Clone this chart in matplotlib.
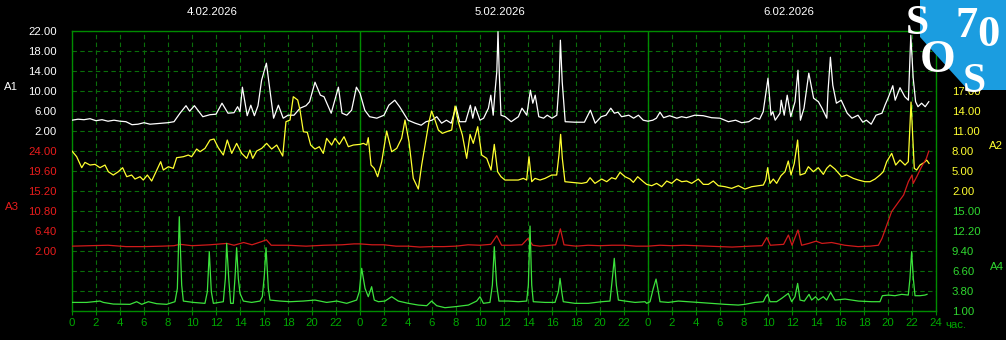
import numpy as np
import matplotlib.pyplot as plt
from matplotlib.patches import Polygon
from matplotlib.transforms import blended_transform_factory

plt.rcParams['font.family'] = ['Liberation Sans', 'DejaVu Sans']

W, H = 1006, 340

dates = ['4.02.2026', '5.02.2026', '6.02.2026']

# A1 (white), hours from start of 4.02
a1_hours = [0.0, 0.5, 1.0, 1.5, 2.0, 2.5, 3.0, 3.5, 4.0, 4.5, 5.0, 5.5, 6.0, 6.5, 7.0, 7.5, 8.0, 8.5,
            9.0, 9.5, 9.8, 10.2, 10.9, 11.5, 12.0, 12.5, 13.0, 13.5, 13.8, 14.0, 14.2, 14.6, 14.9,
            15.2, 15.5, 15.8, 16.2, 16.4, 16.8, 17.2, 17.6, 18.0, 18.5, 19.0, 19.5, 19.8, 20.25,
            20.7, 21.0, 21.6, 22.2, 22.5, 22.9, 23.3, 23.7,
            24.0, 24.4, 24.8, 25.4, 26.0, 26.4, 26.9, 27.3, 28.0, 28.6, 29.1, 29.5, 30.0, 30.4,
            30.8, 31.2, 31.6, 32.0, 32.3, 32.8, 33.2, 33.4, 33.6, 34.0, 34.3, 34.7, 34.9, 35.1,
            35.25, 35.4, 35.5, 35.6, 35.75, 36.1, 36.6, 37.2, 37.5, 37.9, 38.2, 38.4, 38.6, 38.9,
            39.3, 39.6, 40.0, 40.4, 40.6, 40.7, 40.85, 41.1, 41.9, 42.7, 43.2, 43.6, 44.1, 44.5,
            44.9, 45.2, 45.5, 45.8, 46.4, 46.8, 47.2, 47.6,
            48.0, 48.4, 48.7, 49.0, 49.3, 49.8, 50.4, 50.8, 51.2, 51.9, 52.6, 53.3, 54.0, 54.7,
            55.3, 55.8, 56.4, 56.9, 57.3, 57.6, 58.0, 58.25, 58.4, 58.6, 59.0, 59.1, 59.35, 59.6,
            59.9, 60.25, 60.5, 60.7, 61.0, 61.4, 61.8, 62.2, 62.5, 62.9, 63.0, 63.2, 63.4, 63.7,
            64.1, 64.6, 65.0, 65.5, 65.9, 66.2, 66.6, 67.0, 67.5, 67.75, 68.0, 68.4, 68.6, 69.0,
            69.4, 69.7, 69.9, 70.1, 70.3, 70.5, 70.8, 71.1, 71.4]
a1_values = [4.1, 4.3, 4.2, 4.4, 4.0, 4.2, 3.9, 4.1, 3.9, 3.8, 3.2, 3.3, 3.6, 3.3, 3.4, 3.5, 3.6, 3.8,
             5.5, 7.0, 5.9, 7.0, 4.8, 5.2, 5.3, 7.5, 5.5, 5.6, 6.8, 5.8, 10.7, 5.0, 7.1,
             5.0, 7.0, 12.1, 15.5, 11.8, 4.5, 7.1, 4.5, 5.1, 5.1, 6.5, 7.0, 7.8, 11.7,
             9.1, 8.8, 5.5, 10.7, 5.5, 5.1, 6.1, 10.7,
             9.5, 6.1, 4.8, 4.5, 5.1, 7.1, 8.1, 6.8, 4.1, 3.5, 3.1, 3.8, 4.1, 4.8,
             3.5, 4.1, 3.5, 6.8, 3.8, 3.8, 7.1, 4.5, 6.8, 4.1, 4.5, 6.5, 9.1, 5.1,
             9.8, 13.8, 21.8, 13.8, 5.1, 4.8, 3.8, 4.8, 6.5, 5.1, 10.1, 7.5, 9.1, 4.8,
             4.5, 5.1, 4.5, 5.1, 11.8, 20.1, 11.8, 3.8, 3.7, 3.7, 6.1, 3.5, 4.8, 5.1,
             6.5, 5.5, 5.7, 4.8, 5.1, 4.5, 5.1, 4.1,
             3.9, 4.1, 4.5, 5.7, 4.6, 5.0, 4.5, 4.8, 4.6, 5.1, 5.0, 4.6, 4.5, 3.8,
             4.1, 3.6, 3.8, 4.6, 4.3, 5.8, 12.5, 5.1, 5.8, 4.1, 5.5, 8.1, 5.1, 9.1,
             4.8, 7.8, 14.1, 4.1, 6.5, 13.5, 8.5, 7.8, 6.5, 4.5, 9.8, 16.7, 11.1, 7.5,
             8.1, 5.5, 4.5, 5.1, 3.7, 4.1, 3.3, 5.1, 5.5, 7.1, 8.5, 11.0, 8.1, 10.6,
             8.8, 8.1, 21.1, 12.5, 7.8, 6.8, 7.5, 6.8, 7.8]

# A2 (yellow)
a2_hours = [0.0, 0.39, 0.81, 1.08, 1.5, 1.92, 2.33, 2.75, 3.03, 3.44, 3.86, 4.22, 4.56, 4.97, 5.25,
            5.67, 5.94, 6.28, 6.64, 7.0, 7.39, 7.61, 8.03, 8.44, 8.72, 9.28, 9.69, 9.97, 10.39,
            10.67, 11.08, 11.5, 11.83, 12.19, 12.61, 12.94, 13.31, 13.72, 14.14, 14.56, 14.83,
            15.06, 15.39, 15.81, 16.22, 16.64, 17.06, 17.56, 17.83, 18.17, 18.44, 18.81, 19.0,
            19.28, 19.61, 19.89, 20.25, 20.61, 20.94, 21.22, 21.64, 21.92, 22.28, 22.67, 23.03,
            23.44,
            24.0, 24.28, 24.56, 24.69, 24.92, 25.19, 25.47, 25.81, 26.22, 26.64, 27.06, 27.47,
            27.75, 28.08, 28.44, 28.86, 29.14, 29.47, 29.75, 29.97, 30.25, 30.53, 30.86, 31.22,
            31.64, 31.92, 32.19, 32.53, 32.89, 33.17, 33.44, 33.81, 34.14, 34.56, 34.92, 35.19,
            35.47, 35.75, 36.08, 36.64, 37.19, 37.61, 37.89, 38.08, 38.31, 38.58, 39.0, 39.42,
            39.97, 40.39, 40.58, 40.72, 40.86, 41.08, 41.64, 42.47, 42.89, 43.17, 43.58, 44.14,
            44.56, 44.97, 45.31, 45.67, 46.08, 46.5, 46.78, 47.14, 47.61,
            47.89, 48.31, 48.72, 49.14, 49.56, 49.97, 50.39, 50.81, 51.22, 51.64, 52.19, 52.61,
            53.03, 53.44, 53.86, 54.42, 54.97, 55.53, 56.08, 56.64, 57.19, 57.61, 57.81, 57.97,
            58.17, 58.44, 58.72, 59.08, 59.42, 59.69, 59.92, 60.19, 60.47, 60.67, 61.08, 61.36,
            61.78, 62.19, 62.61, 62.89, 63.17, 63.58, 64.14, 64.56, 65.11, 65.53, 66.08, 66.5,
            66.92, 67.33, 67.61, 67.89, 68.31, 68.64, 69.0, 69.42, 69.69, 69.92, 70.19, 70.39,
            70.67, 71.03, 71.22, 71.42]
a2_values = [7.95, 7.1, 5.45, 6.25, 5.85, 5.95, 5.45, 5.85, 4.85, 4.35, 4.85, 5.45, 4.1, 4.35, 3.75,
             4.1, 3.6, 4.35, 3.45, 4.85, 6.35, 5.1, 5.6, 5.35, 6.95, 7.1, 7.35, 7.1, 8.25,
             7.85, 8.35, 9.6, 9.75, 8.45, 7.35, 9.6, 7.6, 9.1, 7.6, 6.85, 8.1,
             6.85, 7.95, 8.35, 9.1, 8.25, 8.85, 7.2, 12.35, 12.6, 16.1, 15.6, 14.1,
             10.85, 10.75, 8.85, 8.25, 8.6, 7.6, 9.85, 8.85, 9.85, 8.95, 10.1, 8.6,
             8.85,
             8.95, 9.1, 8.85, 9.95, 5.85, 5.35, 4.1, 6.35, 10.95, 7.85, 8.35, 9.85,
             12.6, 9.35, 3.85, 2.25, 5.85, 9.35, 12.35, 13.95, 12.6, 11.1, 10.6, 10.85,
             11.1, 14.7, 12.35, 10.35, 6.85, 10.45, 9.1, 11.6, 7.35, 6.85, 5.1, 8.95,
             4.85, 4.1, 3.6, 3.6, 3.6, 3.85, 3.6, 7.1, 3.35, 3.85, 3.6, 3.85,
             4.35, 4.35, 7.35, 10.45, 6.85, 3.35, 3.25, 3.1, 3.25, 3.95, 3.1, 3.75,
             3.35, 3.95, 3.75, 4.75, 4.1, 3.75, 3.25, 4.1, 3.35,
             2.95, 2.75, 3.1, 2.6, 3.45, 3.1, 3.75, 3.35, 3.45, 3.1, 3.75, 2.95,
             2.95, 3.45, 2.75, 2.6, 2.35, 2.75, 2.25, 2.6, 2.75, 2.85, 3.6, 5.45,
             3.1, 3.75, 3.1, 4.25, 4.85, 6.45, 4.35, 6.1, 9.6, 4.35, 4.6, 5.6,
             4.85, 5.45, 4.45, 5.35, 5.85, 5.25, 4.1, 4.35, 3.85, 3.6, 3.35, 3.35,
             3.75, 4.35, 4.85, 6.35, 7.6, 5.85, 6.6, 5.85, 6.35, 15.3, 5.35, 5.1,
             5.85, 6.25, 6.6, 6.1]

# A3 (red)
a3_hours = [0.0, 1.5, 3.0, 4.5, 6.0, 7.5, 8.5, 9.0, 10.0, 11.5, 12.9, 13.5, 14.3, 15.0, 15.8, 16.2,
            16.6, 18.0, 19.5, 21.0, 22.5, 23.5,
            24.0, 25.0, 26.0, 27.0, 28.0, 29.0, 30.0, 31.0, 32.0, 33.0, 34.0, 34.9, 35.4, 35.8,
            36.5, 37.5, 38.0, 38.4, 39.0, 40.3, 40.7, 41.0, 42.0, 43.0, 44.0, 45.0, 46.0, 47.0,
            48.0, 49.0, 50.0, 51.0, 52.0, 53.0, 54.0, 55.0, 55.8, 56.5, 57.5, 57.9, 58.2, 59.3,
            59.7, 60.0, 60.5, 60.8, 61.4, 62.0, 62.5, 63.3, 64.4, 65.5, 66.5, 67.2, 67.5, 67.9,
            68.3, 68.9, 69.3, 69.7, 70.0, 70.1, 70.4, 70.8, 71.2, 71.4]
a3_values = [3.0, 3.1, 3.2, 2.9, 2.9, 3.0, 3.1, 3.4, 3.1, 3.3, 3.6, 3.2, 3.8, 3.3, 4.0, 4.4,
             3.2, 3.2, 3.0, 3.2, 3.3, 3.5,
             3.5, 3.3, 3.3, 3.0, 3.0, 2.8, 2.9, 2.9, 3.0, 3.3, 3.2, 3.4, 5.3, 3.2,
             3.2, 3.3, 4.7, 3.2, 3.0, 3.3, 6.8, 3.3, 3.0, 3.2, 3.1, 3.2, 3.2, 3.0,
             3.0, 3.2, 3.1, 3.2, 3.1, 3.0, 2.9, 2.8, 2.9, 3.0, 3.1, 4.9, 3.2, 3.4,
             5.45, 3.2, 6.55, 3.2, 3.6, 4.1, 3.6, 3.8, 3.2, 2.9, 3.0, 3.2, 4.7, 7.65,
             10.6, 12.8, 14.25, 17.2, 18.65, 16.8, 18.3, 20.5, 22.3, 23.9]

# A4 (green)
a4_hours = [0.0, 1.22, 2.33, 2.61, 3.44, 4.83, 5.39, 5.81, 6.36, 7.06, 7.89, 8.58, 8.78, 8.94, 9.14,
            9.28, 10.11, 11.08, 11.28, 11.44, 11.61, 11.78, 12.61, 12.78, 12.89, 13.06, 13.22,
            13.44, 13.58, 13.72, 13.86, 14.0, 14.28, 14.97, 15.67, 15.86, 16.03, 16.17, 16.36,
            16.5, 17.33, 18.17, 19.28, 20.25, 21.22, 22.06, 22.89, 23.72, 23.94,
            24.14, 24.42, 24.69, 24.97, 25.19, 25.53, 26.08, 26.64, 27.19, 28.03, 28.86, 29.56,
            29.97, 30.39, 31.08, 31.92, 33.03, 33.72, 34.0, 34.28, 34.83, 35.03, 35.19, 35.39,
            35.58, 36.36, 37.19, 37.89, 38.03, 38.17, 38.31, 38.44, 39.42, 40.25, 40.53, 40.67,
            40.81, 40.94, 41.92, 43.03, 44.14, 44.83, 45.03, 45.19, 45.36, 45.53, 46.08, 46.92,
            47.75,
            47.89, 48.17, 48.44, 48.67, 48.86, 49.0, 49.69, 50.53, 51.36, 52.19, 53.31, 54.42,
            55.53, 56.08, 56.92, 57.61, 57.81, 57.97, 58.17, 58.72, 59.14, 59.69, 59.97, 60.25,
            60.47, 60.67, 61.03, 61.42, 61.64, 61.97, 62.19, 62.61, 62.89, 63.22, 63.58, 64.42,
            65.53, 66.64, 67.33, 67.53, 68.03, 68.58, 69.14, 69.69, 69.83, 69.97, 70.11, 70.25,
            70.67, 71.08, 71.25]
a4_values = [2.16, 2.16, 2.35, 2.16, 1.93, 1.89, 2.26, 1.89, 2.26, 1.98, 1.89, 2.26, 4.12, 14.16, 4.59,
             2.35, 2.16, 2.03, 3.66, 9.26, 3.66, 2.03, 2.26, 5.53, 10.42, 5.53, 2.03,
             2.03, 5.53, 9.82, 5.53, 3.42, 2.35, 2.16, 2.35, 2.96, 6.0, 9.82, 4.12,
             2.49, 2.35, 2.26, 2.35, 2.49, 2.16, 2.35, 2.03, 2.49, 3.66,
             6.93, 4.12, 2.96, 4.36, 2.49, 2.26, 2.35, 2.96, 2.35, 2.03, 1.79, 1.7,
             2.35, 1.7, 1.42, 1.56, 1.79, 2.35, 2.96, 2.03, 2.16, 4.59, 9.96, 4.59,
             2.35, 2.35, 2.26, 2.35, 4.59, 12.85, 4.59, 2.26, 2.16, 2.16, 3.66, 5.53,
             3.66, 2.26, 2.03, 2.03, 2.26, 2.35, 5.53, 8.33, 4.59, 2.49, 2.35, 2.16,
             2.26,
             2.03, 2.26, 4.12, 5.43, 3.66, 2.26, 2.16, 2.35, 2.26, 2.16, 2.03, 1.89,
             1.79, 1.89, 2.16, 2.26, 2.96, 3.29, 2.26, 2.26, 2.73, 3.42, 2.26, 2.96,
             4.82, 2.49, 2.35, 3.29, 2.49, 2.96, 2.49, 2.96, 2.49, 3.56, 2.49, 2.63,
             2.35, 2.26, 2.26, 3.1, 3.19, 3.1, 3.29, 3.19, 5.53, 9.26, 5.53, 3.1,
             3.1, 3.19, 3.29]

a1_ticks = [22.0, 18.0, 14.0, 10.0, 6.0, 2.0]
# the upper A2 labels sit under the logo
a2_ticks = [17.0, 14.0, 11.0, 8.0, 5.0, 2.0]
a3_ticks = [24.0, 19.6, 15.2, 10.8, 6.4, 2.0]
a4_ticks = [15.0, 12.2, 9.4, 6.6, 3.8, 1.0]

BORDER = '#008c00'
GRID = '#0a6e0a'
XLAB = '#00a800'
C_A1 = '#ffffff'
C_A2 = '#ffff30'
C_A3 = '#d01a1a'
C_A4 = '#3ce23c'
C_A3_TXT = '#e81c1c'
C_A4_TXT = '#30d830'


def style_twin(ax, ylim, ticks, color, side, pad):
    ax.set_ylim(*ylim)
    ax.set_yticks(ticks)
    ax.set_yticklabels([f'{t:.2f}' for t in ticks])
    if side == 'left':
        ax.yaxis.tick_left()
    else:
        ax.yaxis.tick_right()
    ax.tick_params(axis='y', length=0, pad=pad, labelcolor=color, labelsize=8.2)
    for s in ax.spines.values():
        s.set_visible(False)


fig = plt.figure(figsize=(W / 100, H / 100), dpi=100, facecolor='black')
ax1 = fig.add_axes([72 / W, (H - 310.7) / H, 864 / W, 280 / H], facecolor='black')

ax1.set_xlim(0, 72)
ax1.set_ylim(-34, 22)
grid_y = np.arange(-34, 22.1, 4)
ax1.set_yticks(grid_y)
ax1.set_yticklabels([f'{v:.2f}' if v in a1_ticks else '' for v in grid_y])
ax1.tick_params(axis='y', length=0, pad=11, labelcolor=C_A1, labelsize=8.2)
xt = np.arange(0, 73, 2)
ax1.set_xticks(xt)
ax1.set_xticklabels(['24' if h == 72 else str(h % 24) for h in xt])
ax1.tick_params(axis='x', length=3, width=0.8, color=BORDER, pad=2.5, labelcolor=XLAB, labelsize=8.2)
ax1.grid(True, color=GRID, linestyle=(0, (4, 3)), linewidth=0.8)
ax1.set_axisbelow(True)
for s in ax1.spines.values():
    s.set_color(BORDER)
    s.set_linewidth(1.0)
for d in (24, 48):
    ax1.axvline(d, color=BORDER, linewidth=1.0, zorder=1)

ax1.plot(a1_hours, a1_values, color=C_A1, linewidth=0.9, zorder=3)

ax2 = ax1.twinx()
style_twin(ax2, (-16, 26), a2_ticks, C_A2, 'right', 11.5)
ax2.plot(a2_hours, a2_values, color=C_A2, linewidth=0.9)

ax3 = ax1.twinx()
style_twin(ax3, (-11.2, 50.4), a3_ticks, C_A3_TXT, 'left', 11)
ax3.plot(a3_hours, a3_values, color=C_A3, linewidth=0.9)

ax4 = ax1.twinx()
style_twin(ax4, (1, 40.2), a4_ticks, C_A4_TXT, 'right', 11.5)
ax4.plot(a4_hours, a4_values, color=C_A4, linewidth=0.9)

top = blended_transform_factory(ax1.transData, fig.transFigure)
for i, d in enumerate(dates):
    ax1.text(i * 24 + 11.7, 1 - 12 / H, d, transform=top, color='white', fontsize=8.2,
             ha='center', va='center')

fig.text(945 / W, 1 - 325 / H, 'час.', color=XLAB, fontsize=8.2, va='center', ha='left')
fig.text(11 / W, 1 - 87 / H, 'A1', color=C_A1, fontsize=8.2, ha='center', va='center')
fig.text(11.5 / W, 1 - 207 / H, 'A3', color=C_A3_TXT, fontsize=8.2, ha='center', va='center')
fig.text(996 / W, 1 - 146 / H, 'A2', color=C_A2, fontsize=8.2, ha='center', va='center')
fig.text(997 / W, 1 - 267 / H, 'A4', color=C_A4_TXT, fontsize=8.2, ha='center', va='center')

# logo in the top right corner
logo = [(920, 0), (1006, 0), (1006, 90), (968, 90), (920, 37)]
fig.add_artist(Polygon([(x / W, 1 - y / H) for x, y in logo], closed=True, transform=fig.transFigure,
                       facecolor='#1b9de0', edgecolor='none', zorder=10))
logo_font = dict(family='Liberation Serif', weight='bold', color='white', ha='center', va='center',
                 zorder=11)
fig.text(917.5 / W, 1 - 24 / H, 'S', fontsize=30, **logo_font)
fig.text(967 / W, 1 - 26 / H, '7', fontsize=32, **logo_font)
fig.text(988 / W, 1 - 35 / H, '0', fontsize=32, **logo_font)
fig.text(937.5 / W, 1 - 61 / H, 'O', fontsize=33, **logo_font)
fig.text(974 / W, 1 - 82 / H, 'S', fontsize=30, **logo_font)

fig.savefig('out.png', dpi=100, facecolor='black')
